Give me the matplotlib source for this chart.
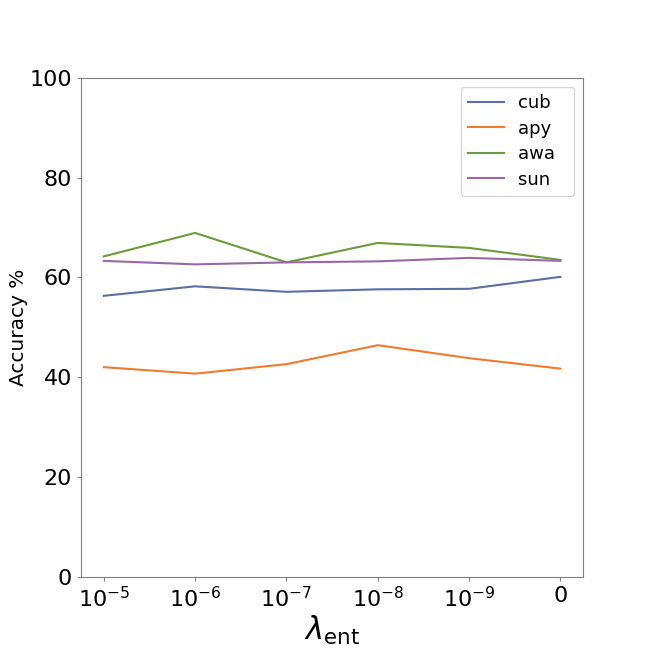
import matplotlib
matplotlib.use("Agg")
import matplotlib.pyplot as plt

x_labels = [r'$10^{-5}$', r'$10^{-6}$', r'$10^{-7}$', r'$10^{-8}$', r'$10^{-9}$', '0']
cub = [56.3, 58.2, 57.1, 57.6, 57.7, 60.1]
apy = [42.0, 40.7, 42.6, 46.4, 43.8, 41.7]
awa = [64.2, 68.9, 63.0, 66.9, 65.9, 63.5]
sun = [63.3, 62.6, 63.0, 63.2, 63.9, 63.3]

fig = plt.figure(figsize=(6.48, 6.48), dpi=100)
ax = fig.add_subplot()

xs = range(len(x_labels))
ax.plot(xs, cub, color='#5b6ea6', lw=1.5, label='cub  ')
ax.plot(xs, apy, color='#f07a30', lw=1.5, label='apy  ')
ax.plot(xs, awa, color='#6b9b3b', lw=1.5, label='awa  ')
ax.plot(xs, sun, color='#9a68a6', lw=1.5, label='sun  ')

ax.set_ylim(0, 100)
ax.set_xticks(list(xs))
ax.set_xticklabels(x_labels)
ax.tick_params(labelsize=16, length=3, color='#808080')
ax.set_ylabel('Accuracy %', fontsize=14.5, labelpad=1)
ax.set_xlabel(r'$\lambda_{\rm ent}$', fontsize=22, labelpad=2)
for s in ax.spines.values():
    s.set_color('#808080')

ax.legend(fontsize=13, loc='upper right', labelspacing=0.42)

plt.savefig('out.png', dpi=100)
